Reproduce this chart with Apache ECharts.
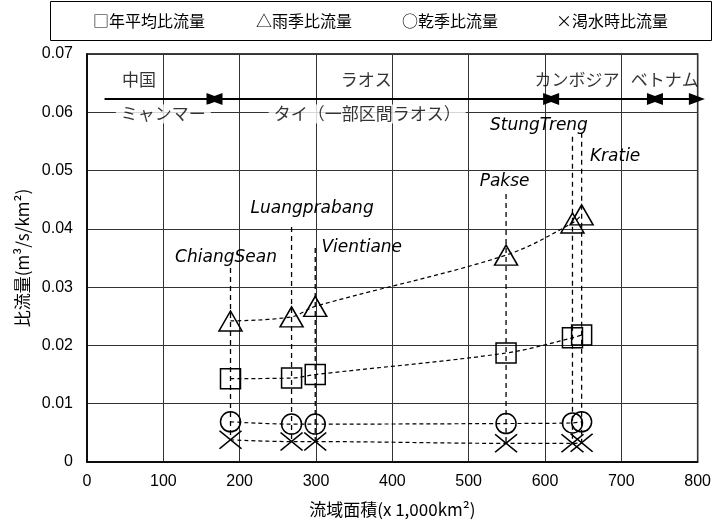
<!DOCTYPE html>
<html>
<head>
<meta charset="utf-8">
<script src="https://cdn.jsdelivr.net/npm/echarts@6/dist/echarts.min.js"></script>
<style>
  html, body { margin: 0; padding: 0; background: #fff; }
  #chart { width: 714px; height: 527px; }
</style>
</head>
<body>
<div id="chart"></div>
<script>
// Gauging stations along the Mekong main stream
const stations = ['ChiangSean', 'Luangprabang', 'Vientiane', 'Pakse', 'StungTreng', 'Kratie'];
// Catchment area (x 1,000 km2)
const basinArea = [188, 268, 299, 549, 636, 648];
// Specific discharge (m3/s/km2)
const annualMean = [0.0143, 0.0144, 0.0150, 0.0187, 0.0213, 0.0218];
const wetSeason = [0.0242, 0.0249, 0.0267, 0.0355, 0.0410, 0.0424];
const drySeason = [0.0069, 0.0065, 0.0065, 0.0066, 0.0067, 0.0069];
const lowFlow = [0.0038, 0.0035, 0.0035, 0.0032, 0.0032, 0.0033];
// Top end of each station's leader line
const leaderTop = [0.0333, 0.0403, 0.0367, 0.0460, 0.0558, 0.0565];

// Countries along the river, split at catchment-area breakpoints
const countryBreaks = [23, 167, 608, 744, 799];
const upperCountries = ['中国', 'ラオス', 'カンボジア', 'ベトナム'];
const lowerCountries = ['ミャンマー', 'タイ（一部区間ラオス）'];

const legendNames = ['□年平均比流量', '△雨季比流量', '○乾季比流量', '×渇水時比流量'];

const xTicks = { min: 0, max: 800, interval: 100 };
const yTicks = { min: 0, max: 0.07, interval: 0.01 };

const JP = '"Noto Sans CJK JP", "Liberation Sans", sans-serif';
const NUM = '"Liberation Sans", Arial, sans-serif';
const crossPath = 'path://M0,0L10,10M10,0L0,10';

function pts(values) {
  return basinArea.map((a, i) => [a, values[i]]);
}

function flowSeries(name, values, symbol, size) {
  return {
    name: name,
    type: 'line',
    data: pts(values),
    smooth: 0.35,
    symbol: symbol,
    symbolSize: size,
    z: 5,
    lineStyle: { color: '#000', width: 1.2, type: [4, 3] },
    itemStyle: { color: 'rgba(0,0,0,0)', borderColor: '#000', borderWidth: 1.5 },
    emphasis: { disabled: true },
    animation: false
  };
}

// Per-station label offset (px) from the top of its leader line
const leaderLabelOffset = [[-4, -10], [21, -18], [47, 0], [-1, -12], [-33, -11], [34, 24]];

const leaderSeries = stations.map((name, i) => ({
  type: 'line',
  data: [
    { value: [basinArea[i], leaderTop[i]], label: {
        show: true, formatter: name, position: leaderLabelOffset[i],
        align: 'center', verticalAlign: 'middle',
        fontFamily: '"DejaVu Sans", sans-serif', fontStyle: 'italic',
        fontSize: 17, color: '#000'
      } },
    [basinArea[i], lowFlow[i]]
  ],
  symbol: 'circle',
  symbolSize: 1,
  showSymbol: true,
  itemStyle: { color: 'rgba(0,0,0,0)', borderWidth: 0 },
  z: 3,
  lineStyle: { color: '#000', width: 1.3, type: [5, 4] },
  emphasis: { disabled: true },
  animation: false
}));

// Country span arrows along the top of the plot
const arrowY = 0.0623;
const arrowLines = [];
for (let i = 0; i < countryBreaks.length - 1; i++) {
  arrowLines.push([
    { coord: [countryBreaks[i], arrowY], symbol: i === 0 ? 'none' : 'triangle' },
    { coord: [countryBreaks[i + 1], arrowY], symbol: 'triangle' }
  ]);
}

const upperNamePos = [[68, 0.0656], [366, 0.0656], [642, 0.0656], [757, 0.0656]];
const lowerNamePos = [[100, 0.0597], [367, 0.0597]];

const countrySeries = {
  type: 'scatter',
  symbolSize: 0,
  z: 6,
  silent: true,
  animation: false,
  data: upperCountries.map((n, i) => ({ value: upperNamePos[i], name: n }))
    .concat(lowerCountries.map((n, i) => ({
      value: lowerNamePos[i], name: n,
      label: { backgroundColor: '#fff', padding: [1, 5] }
    }))),
  label: {
    show: true, position: 'inside', formatter: p => p.name,
    fontFamily: JP, fontSize: 17, color: '#000'
  },
  markLine: {
    silent: true,
    symbolSize: [12, 16],
    label: { show: false },
    lineStyle: { color: '#000', width: 2, type: 'solid' },
    itemStyle: { color: '#000' },
    data: arrowLines,
    animation: false
  }
};

const chart = echarts.init(document.getElementById('chart'), null, { renderer: 'canvas' });

const legendX = [93, 256, 402, 556];
const legendGraphics = [{
  type: 'rect',
  shape: { x: 50.5, y: 1.5, width: 661, height: 39 },
  style: { fill: '#fff', stroke: '#000', lineWidth: 1 }
}].concat(legendNames.map((t, i) => ({
  type: 'text',
  x: legendX[i], y: 21,
  style: { text: t, font: '16px ' + JP, fill: '#000', verticalAlign: 'middle' }
})));

chart.setOption({
  backgroundColor: '#fff',
  animation: false,
  grid: {
    left: 87, right: 13, top: 54, bottom: 65,
    show: true, borderColor: '#000', borderWidth: 1.5, backgroundColor: 'transparent'
  },
  xAxis: {
    type: 'value', min: xTicks.min, max: xTicks.max, interval: xTicks.interval,
    name: '流域面積(x 1,000km²)', nameLocation: 'middle', nameGap: 39,
    nameTextStyle: { fontFamily: JP, fontSize: 17, color: '#000' },
    axisLine: { show: true, lineStyle: { color: '#000', width: 1.5 } },
    axisTick: { show: false },
    axisLabel: { fontFamily: NUM, fontSize: 16, color: '#000', margin: 12 },
    splitLine: { show: true, lineStyle: { color: '#333', width: 1 } }
  },
  yAxis: {
    type: 'value', min: yTicks.min, max: yTicks.max, interval: yTicks.interval,
    name: '比流量(m³/s/km²)', nameLocation: 'middle', nameGap: 55, nameRotate: 90,
    nameTextStyle: { fontFamily: JP, fontSize: 17, color: '#000' },
    axisLine: { show: true, lineStyle: { color: '#000', width: 1.5 } },
    axisTick: { show: false },
    axisLabel: {
      fontFamily: NUM, fontSize: 16, color: '#000', margin: 14,
      formatter: v => (v === 0 ? '0' : v.toFixed(2))
    },
    splitLine: { show: true, lineStyle: { color: '#333', width: 1 } }
  },
  graphic: legendGraphics,
  series: leaderSeries.concat([
    flowSeries('年平均比流量', annualMean, 'rect', [20, 20]),
    flowSeries('雨季比流量', wetSeason, 'triangle', [23, 20]),
    flowSeries('乾季比流量', drySeason, 'circle', 20),
    flowSeries('渇水時比流量', lowFlow, crossPath, [22, 18]),
    countrySeries
  ])
});
</script>
</body>
</html>
